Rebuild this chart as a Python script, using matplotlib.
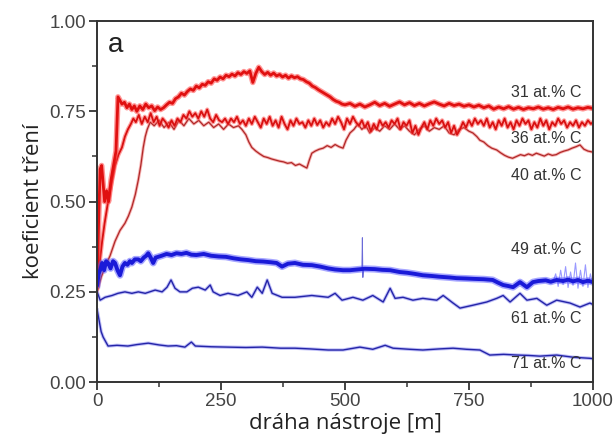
import matplotlib

matplotlib.use("Agg")

import matplotlib.pyplot as plt
from matplotlib.ticker import MultipleLocator, FormatStrFormatter

# friction coefficient vs sliding distance
dist_31 = [0, 3, 6, 9, 12, 15, 19, 23, 28, 33, 38, 42, 46, 50, 55, 60, 65, 70, 75, 80,
           86, 92, 98, 104, 110, 116, 122, 128, 134, 140, 146, 152, 158, 164, 170, 176,
           182, 188, 194, 200, 206, 212, 218, 224, 230, 236, 242, 248, 254, 260, 266,
           272, 278, 284, 290, 296, 302, 308, 314, 320, 326, 332, 338, 344, 350, 356,
           362, 368, 374, 380, 386, 392, 398, 404, 410, 416, 422, 428, 434, 440, 446,
           452, 458, 464, 470, 476, 482, 488, 494, 500, 510, 520, 530, 540, 550, 560,
           570, 580, 590, 600, 610, 620, 630, 640, 650, 660, 670, 680, 690, 700, 710,
           720, 730, 740, 750, 760, 770, 780, 790, 800, 810, 820, 830, 840, 850, 860,
           870, 880, 890, 900, 910, 920, 930, 940, 950, 960, 970, 980, 990, 1000]
cof_31 = [0.27, 0.45, 0.59, 0.60, 0.55, 0.50, 0.53, 0.50, 0.56, 0.60, 0.64, 0.79, 0.78,
          0.77, 0.775, 0.76, 0.77, 0.755, 0.765, 0.75, 0.765, 0.755, 0.77, 0.76, 0.765,
          0.752, 0.762, 0.755, 0.76, 0.768, 0.775, 0.772, 0.785, 0.79, 0.80, 0.795,
          0.805, 0.812, 0.808, 0.82, 0.815, 0.825, 0.822, 0.832, 0.828, 0.84, 0.836,
          0.845, 0.84, 0.85, 0.846, 0.853, 0.848, 0.857, 0.852, 0.86, 0.855, 0.862,
          0.83, 0.855, 0.872, 0.86, 0.852, 0.858, 0.85, 0.856, 0.848, 0.852, 0.845,
          0.85, 0.842, 0.848, 0.843, 0.846, 0.84, 0.838, 0.832, 0.828, 0.82, 0.816,
          0.81, 0.805, 0.80, 0.795, 0.79, 0.783, 0.778, 0.775, 0.77, 0.768, 0.772,
          0.764, 0.77, 0.762, 0.768, 0.775, 0.766, 0.772, 0.764, 0.77, 0.776, 0.768,
          0.774, 0.766, 0.772, 0.765, 0.771, 0.776, 0.77, 0.765, 0.772, 0.766, 0.77,
          0.764, 0.768, 0.762, 0.767, 0.76, 0.765, 0.756, 0.762, 0.757, 0.763, 0.756,
          0.761, 0.755, 0.76, 0.757, 0.762, 0.756, 0.76, 0.755, 0.761, 0.757, 0.762,
          0.756, 0.76, 0.757, 0.761, 0.758]

dist_36 = [0, 5, 10, 15, 22, 29, 36, 43, 50, 56, 62, 68, 73, 78, 84, 90, 96, 102, 108,
           114, 120, 126, 132, 138, 144, 150, 156, 162, 168, 174, 180, 186, 192, 198,
           204, 210, 216, 222, 228, 234, 240, 246, 252, 258, 264, 270, 276, 282, 288,
           294, 300, 306, 312, 318, 324, 330, 336, 342, 348, 354, 360, 366, 372, 378,
           384, 390, 396, 402, 408, 414, 420, 426, 432, 438, 444, 450, 456, 462, 468,
           474, 480, 486, 492, 498, 504, 510, 516, 522, 528, 534, 540, 546, 552, 558,
           564, 570, 576, 582, 588, 594, 600, 606, 612, 618, 624, 630, 636, 642, 648,
           654, 660, 666, 672, 678, 684, 690, 696, 702, 708, 714, 720, 726, 732, 738,
           744, 750, 756, 762, 768, 774, 780, 786, 792, 798, 804, 810, 816, 822, 828,
           834, 840, 846, 852, 858, 864, 870, 876, 882, 888, 894, 900, 906, 912, 918,
           924, 930, 936, 942, 948, 954, 960, 966, 972, 978, 984, 990, 996, 1000]
cof_36 = [0.26, 0.33, 0.39, 0.44, 0.50, 0.55, 0.60, 0.63, 0.65, 0.68, 0.70, 0.715, 0.73,
          0.72, 0.74, 0.715, 0.735, 0.72, 0.745, 0.72, 0.735, 0.71, 0.73, 0.72, 0.705,
          0.725, 0.71, 0.73, 0.72, 0.74, 0.73, 0.75, 0.735, 0.745, 0.73, 0.75, 0.735,
          0.755, 0.73, 0.72, 0.74, 0.725, 0.72, 0.73, 0.715, 0.73, 0.72, 0.735, 0.715,
          0.725, 0.71, 0.73, 0.715, 0.735, 0.72, 0.705, 0.73, 0.715, 0.735, 0.71, 0.725,
          0.705, 0.735, 0.715, 0.70, 0.725, 0.71, 0.73, 0.715, 0.72, 0.705, 0.725, 0.71,
          0.73, 0.712, 0.725, 0.705, 0.72, 0.71, 0.73, 0.715, 0.735, 0.72, 0.70, 0.73,
          0.715, 0.735, 0.72, 0.71, 0.725, 0.705, 0.72, 0.695, 0.715, 0.70, 0.725, 0.71,
          0.72, 0.705, 0.725, 0.715, 0.73, 0.70, 0.72, 0.71, 0.725, 0.69, 0.71, 0.685,
          0.705, 0.72, 0.70, 0.725, 0.71, 0.73, 0.715, 0.725, 0.705, 0.72, 0.69, 0.71,
          0.685, 0.70, 0.72, 0.705, 0.725, 0.71, 0.73, 0.715, 0.725, 0.71, 0.73, 0.705,
          0.72, 0.70, 0.725, 0.71, 0.73, 0.705, 0.72, 0.70, 0.725, 0.71, 0.73, 0.715,
          0.725, 0.70, 0.72, 0.705, 0.73, 0.71, 0.725, 0.70, 0.72, 0.71, 0.73, 0.715,
          0.725, 0.705, 0.72, 0.71, 0.725, 0.705, 0.72, 0.71, 0.725, 0.715, 0.72]

dist_40 = [0, 8, 16, 26, 36, 46, 56, 63, 70, 77, 83, 88, 93, 97, 101, 107, 115, 125, 135,
           145, 155, 165, 175, 185, 195, 205, 215, 225, 235, 245, 255, 265, 275, 285,
           292, 300, 306, 312, 320, 328, 336, 344, 352, 360, 368, 376, 384, 392, 400,
           408, 416, 423, 428, 433, 440, 448, 456, 464, 472, 480, 488, 496, 502, 510,
           518, 526, 534, 542, 550, 560, 570, 580, 590, 600, 610, 620, 630, 640, 650,
           660, 670, 680, 690, 700, 710, 720, 730, 740, 750, 758, 766, 772, 780, 788,
           796, 806, 814, 822, 830, 838, 846, 854, 862, 870, 878, 886, 894, 902, 910,
           918, 926, 934, 942, 950, 958, 966, 974, 982, 990, 1000]
cof_40 = [0.25, 0.29, 0.32, 0.35, 0.39, 0.42, 0.44, 0.46, 0.485, 0.52, 0.56, 0.60, 0.65,
          0.68, 0.70, 0.72, 0.71, 0.725, 0.705, 0.72, 0.70, 0.725, 0.71, 0.73, 0.715,
          0.725, 0.71, 0.72, 0.705, 0.715, 0.70, 0.715, 0.705, 0.71, 0.70, 0.685, 0.665,
          0.65, 0.64, 0.632, 0.625, 0.622, 0.618, 0.615, 0.612, 0.61, 0.606, 0.608, 0.60,
          0.604, 0.598, 0.593, 0.615, 0.634, 0.64, 0.645, 0.648, 0.655, 0.65, 0.658,
          0.652, 0.648, 0.67, 0.69, 0.70, 0.715, 0.70, 0.71, 0.69, 0.705, 0.695, 0.71,
          0.70, 0.715, 0.70, 0.71, 0.695, 0.685, 0.70, 0.71, 0.695, 0.705, 0.70, 0.71,
          0.69, 0.685, 0.70, 0.705, 0.695, 0.69, 0.68, 0.67, 0.665, 0.655, 0.648, 0.643,
          0.635, 0.628, 0.623, 0.62, 0.625, 0.63, 0.627, 0.632, 0.628, 0.634, 0.63,
          0.626, 0.632, 0.628, 0.63, 0.636, 0.64, 0.643, 0.648, 0.652, 0.657, 0.645,
          0.64, 0.637]

dist_49 = [0, 3, 6, 10, 14, 18, 22, 27, 32, 36, 41, 46, 51, 56, 61, 66, 70, 76, 83, 88,
           94, 99, 103, 108, 113, 118, 123, 130, 140, 150, 160, 170, 180, 190, 200, 215,
           230, 245, 260, 275, 290, 305, 320, 335, 350, 362, 373, 385, 399, 415, 433,
           450, 466, 480, 496, 510, 525, 540, 560, 575, 591, 610, 625, 640, 657, 675,
           690, 710, 725, 745, 760, 780, 798, 808, 819, 830, 839, 846, 853, 860, 867,
           873, 879, 890, 905, 915, 927, 940, 950, 960, 970, 980, 990, 1000]
cof_49 = [0.27, 0.30, 0.31, 0.33, 0.31, 0.335, 0.33, 0.315, 0.335, 0.33, 0.31, 0.296,
          0.32, 0.33, 0.325, 0.335, 0.33, 0.34, 0.34, 0.335, 0.345, 0.35, 0.357, 0.345,
          0.33, 0.345, 0.347, 0.35, 0.355, 0.352, 0.357, 0.355, 0.358, 0.353, 0.352,
          0.355, 0.35, 0.348, 0.347, 0.343, 0.34, 0.338, 0.335, 0.334, 0.332, 0.33,
          0.32, 0.328, 0.33, 0.325, 0.324, 0.32, 0.315, 0.312, 0.31, 0.31, 0.312,
          0.314, 0.313, 0.311, 0.31, 0.305, 0.303, 0.30, 0.296, 0.294, 0.292, 0.29,
          0.288, 0.287, 0.286, 0.285, 0.283, 0.276, 0.269, 0.266, 0.263, 0.27, 0.277,
          0.27, 0.263, 0.27, 0.277, 0.28, 0.282, 0.278, 0.283, 0.28, 0.284, 0.279,
          0.283, 0.277, 0.281, 0.277]

# thin spikes riding on the 49 at.% C trace
spike_dist_49 = [534, 535, 536, 537]
spike_cof_49 = [0.31, 0.40, 0.29, 0.31]
tail_dist_49 = [920, 925, 930, 935, 940, 945, 950, 955, 960, 965, 970, 975, 980, 985,
                990, 995, 1000]
tail_cof_49 = [0.28, 0.30, 0.265, 0.31, 0.27, 0.32, 0.262, 0.305, 0.268, 0.33, 0.26,
               0.31, 0.265, 0.325, 0.262, 0.30, 0.27]

dist_61 = [0, 6, 16, 30, 42, 56, 70, 83, 97, 117, 131, 141, 149, 157, 167, 181, 192, 204,
           218, 228, 234, 248, 264, 284, 302, 312, 323, 333, 343, 353, 373, 399, 433,
           466, 480, 494, 516, 536, 556, 577, 591, 601, 617, 637, 657, 685, 698, 718,
           732, 758, 786, 806, 819, 833, 853, 867, 887, 907, 927, 954, 974, 994, 1000]
cof_61 = [0.25, 0.227, 0.235, 0.24, 0.246, 0.25, 0.246, 0.25, 0.246, 0.255, 0.25, 0.263,
          0.283, 0.26, 0.25, 0.25, 0.26, 0.263, 0.255, 0.269, 0.25, 0.24, 0.246, 0.24,
          0.25, 0.235, 0.263, 0.246, 0.283, 0.246, 0.235, 0.235, 0.24, 0.235, 0.246,
          0.227, 0.235, 0.227, 0.24, 0.222, 0.26, 0.232, 0.235, 0.227, 0.232, 0.227,
          0.24, 0.219, 0.205, 0.213, 0.222, 0.232, 0.24, 0.222, 0.246, 0.227, 0.232,
          0.213, 0.227, 0.219, 0.208, 0.219, 0.215]

dist_71 = [0, 4, 8, 12, 16, 22, 40, 62, 80, 103, 125, 143, 160, 177, 190, 198, 230, 264,
           300, 333, 370, 399, 430, 466, 496, 530, 556, 581, 597, 630, 657, 690, 718,
           745, 772, 792, 820, 847, 870, 893, 927, 960, 994, 1000]
cof_71 = [0.20, 0.17, 0.14, 0.125, 0.115, 0.10, 0.102, 0.10, 0.104, 0.108, 0.103, 0.10,
          0.101, 0.097, 0.111, 0.10, 0.098, 0.097, 0.096, 0.097, 0.094, 0.094, 0.092,
          0.089, 0.089, 0.097, 0.091, 0.102, 0.094, 0.091, 0.089, 0.092, 0.094, 0.091,
          0.089, 0.075, 0.077, 0.075, 0.074, 0.072, 0.075, 0.069, 0.066, 0.065]

curve_labels = ["31 at.% C", "36 at.% C", "40 at.% C", "49 at.% C", "61 at.% C", "71 at.% C"]
label_y = [0.803, 0.676, 0.573, 0.366, 0.177, 0.053]

fig = plt.figure(figsize=(6.15, 4.48), dpi=100)
ax = fig.add_axes([0.158, 0.147, 0.806, 0.806])

# red series (halo + core)
ax.plot(dist_40, cof_40, color="#f08080", linewidth=2.2, alpha=0.6)
ax.plot(dist_40, cof_40, color="#b02828", linewidth=0.9)
ax.plot(dist_36, cof_36, color="#ff5050", linewidth=3.0, alpha=0.55)
ax.plot(dist_36, cof_36, color="#d81010", linewidth=1.3)
ax.plot(dist_31, cof_31, color="#ff4040", linewidth=4.0, alpha=0.55)
ax.plot(dist_31, cof_31, color="#e01010", linewidth=2.0)

# blue series
ax.plot(dist_71, cof_71, color="#8080f0", linewidth=2.4, alpha=0.5)
ax.plot(dist_71, cof_71, color="#2424a8", linewidth=1.0)
ax.plot(dist_61, cof_61, color="#8080f0", linewidth=2.4, alpha=0.5)
ax.plot(dist_61, cof_61, color="#2424a8", linewidth=1.0)
ax.plot(tail_dist_49, tail_cof_49, color="#7070ff", linewidth=0.8, alpha=0.7)
ax.plot(spike_dist_49, spike_cof_49, color="#6a6ad8", linewidth=0.7)
ax.plot(dist_49, cof_49, color="#5050ff", linewidth=5.0, alpha=0.5)
ax.plot(dist_49, cof_49, color="#1a1ad8", linewidth=2.8)

for text, y in zip(curve_labels, label_y):
    ax.text(978, y, text, ha="right", va="center", fontsize=11.5,
            family="Liberation Sans", color="#333333")

ax.text(22, 0.914, "a", ha="left", va="baseline", fontsize=20,
        family="Liberation Sans", color="#222222")

ax.set_xlim(0, 1000)
ax.set_ylim(0, 1.0)
ax.xaxis.set_major_locator(MultipleLocator(250))
ax.xaxis.set_minor_locator(MultipleLocator(125))
ax.yaxis.set_major_locator(MultipleLocator(0.25))
ax.yaxis.set_minor_locator(MultipleLocator(0.125))
ax.yaxis.set_major_formatter(FormatStrFormatter("%.2f"))
ax.tick_params(which="major", direction="out", length=6, width=1.3, color="#333333",
               labelsize=13.5, labelcolor="#444444", pad=2)
ax.tick_params(which="minor", direction="out", length=3.5, width=1.1, color="#333333")
for lab in ax.get_xticklabels() + ax.get_yticklabels():
    lab.set_family("Liberation Sans")
for spine in ax.spines.values():
    spine.set_linewidth(1.4)
    spine.set_color("#333333")

ax.set_xlabel("dráha nástroje [m]", fontsize=16, family="Open Sans", color="#222222",
              labelpad=2)
ax.set_ylabel("koeficient tření", fontsize=16, family="Open Sans", color="#222222",
              labelpad=4)

fig.savefig("out.png", dpi=100)
plt.close(fig)
